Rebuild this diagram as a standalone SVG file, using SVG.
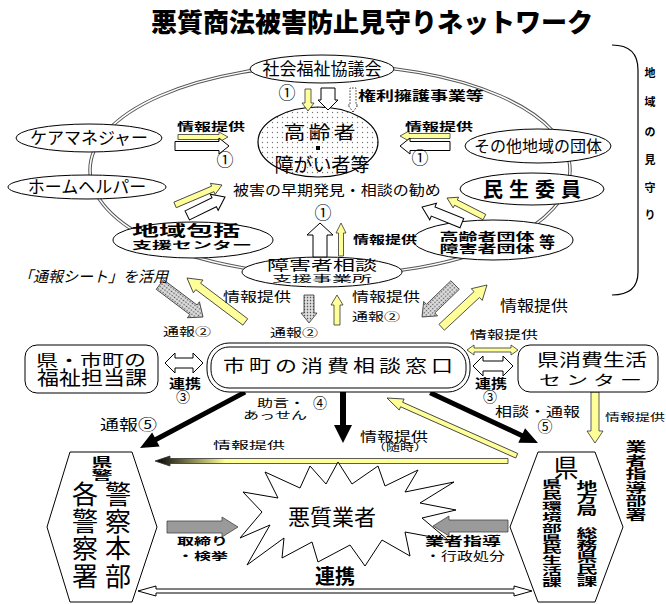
<svg xmlns="http://www.w3.org/2000/svg" width="666" height="604" viewBox="0 0 666 604">
<defs>
<pattern id="dots" width="5" height="5" patternUnits="userSpaceOnUse"><rect width="5" height="5" fill="#fff"/><circle cx="2.5" cy="2.5" r="0.7" fill="#777"/></pattern>
<pattern id="dots2" width="3" height="3" patternUnits="userSpaceOnUse"><rect width="3" height="3" fill="#ddd"/><circle cx="1.5" cy="1.5" r="0.8" fill="#555"/></pattern>
<linearGradient id="lg" x1="0" y1="0" x2="1" y2="0"><stop offset="0" stop-color="#000"/><stop offset="0.2" stop-color="#ffff99"/><stop offset="1" stop-color="#ffff99"/></linearGradient>
<style>
text{font-family:"Noto Sans CJK JP","Noto Sans CJK SC",sans-serif;fill:#000}
.b{font-weight:bold}
.h{font-weight:900}
.m{text-anchor:middle}
.node{fill:#fff;stroke:#000;stroke-width:1}
.ya{fill:#ffff99;stroke:#333;stroke-width:0.8}
.wa{fill:#fff;stroke:#000;stroke-width:1}
.ga{fill:url(#dots2);stroke:#333;stroke-width:0.8}
.gs{fill:#9a9a9a;stroke:#444;stroke-width:0.8}
.ba{fill:#000}
</style>
</defs>
<rect width="666" height="604" fill="#fff"/>

<text x="372" y="32" class="h m" font-size="26">悪質商法被害防止見守りネットワーク</text>

<g id="ring">
<ellipse cx="330" cy="170" rx="240" ry="105" fill="none" stroke="#555" stroke-width="3.5"/>
<ellipse cx="330" cy="170" rx="240" ry="105" fill="none" stroke="#fff" stroke-width="1.5"/>
</g>
<path id="bracket" d="M612,45 Q638,45 638,70 L638,272 Q638,295 612,295" fill="none" stroke="#000" stroke-width="1.2"/>
<text class="b m" font-size="11"><tspan x="650" y="77">地</tspan><tspan x="650" y="106">域</tspan><tspan x="650" y="136">の</tspan><tspan x="650" y="164">見</tspan><tspan x="650" y="192">守</tspan><tspan x="650" y="219">り</tspan></text>

<g id="n-shakyo"><ellipse class="node" cx="322" cy="69" rx="72" ry="14"/><text x="322" y="75" class="m" font-size="17">社会福祉協議会</text></g>
<g id="n-caremgr"><ellipse class="node" cx="89" cy="138" rx="73" ry="14"/><text x="89" y="144" class="m" font-size="17">ケアマネジャー</text></g>
<g id="n-helper"><ellipse class="node" cx="87" cy="187" rx="79" ry="12"/><text x="87" y="193" class="m" font-size="17">ホームヘルパー</text></g>
<g id="n-hokatsu"><ellipse class="node" cx="193" cy="240" rx="80" ry="18"/>
<text transform="translate(186,231) scale(1,0.55)" y="9" class="b m" font-size="27">地域包括</text>
<text transform="translate(192,245) scale(1,0.5)" y="7" class="b m" font-size="20">支援センター</text></g>
<g id="n-shogai"><ellipse class="node" cx="322" cy="272" rx="80" ry="15"/>
<text transform="translate(322,265) scale(1,0.62)" y="8" class="m" font-size="22">障害者相談</text>
<text transform="translate(322,278.5) scale(1,0.48)" y="7" class="m" font-size="20">支援事業所</text></g>
<g id="n-dantai"><ellipse class="node" cx="493" cy="240" rx="80" ry="20"/>
<text transform="translate(487,236.5) scale(1,0.6)" y="7" class="b m" font-size="19">高齢者団体</text>
<text transform="translate(487,249) scale(1,0.6)" y="7" class="b m" font-size="19">障害者団体</text>
<text x="547" y="248" class="b m" font-size="16">等</text></g>
<g id="n-minsei"><ellipse class="node" cx="532" cy="189" rx="72" ry="16"/><text x="535" y="197" class="b m" font-size="20" letter-spacing="6">民生委員</text></g>
<g id="n-sonota"><ellipse class="node" cx="538" cy="146" rx="73" ry="17"/><text x="538" y="152" class="m" font-size="16">その他地域の団体</text></g>
<g id="n-koreisha"><ellipse cx="318" cy="142" rx="60" ry="35" fill="url(#dots)" stroke="#000" stroke-width="1.2"/>
<text transform="translate(321,132) scale(1,0.85)" y="8" class="m" font-size="22" letter-spacing="3">高齢者</text>
<rect x="316" y="146" width="4" height="4" fill="#000"/>
<text x="322" y="172" class="m" font-size="19">障がい者等</text></g>

<g id="connectors">
<polygon class="ya" transform="translate(308,111) rotate(90)" points="0,0 -8,-6 -8,-3 -22,-3 -22,3 -8,3 -8,6"/>
<polygon class="wa" transform="translate(328,110) rotate(90)" points="0,0 -10,-10 -10,-7 -22,-7 -22,7 -10,7 -10,10"/>
<polygon fill="#fff" stroke="#000" stroke-width="0.8" stroke-dasharray="1.5 1.5" transform="translate(353,112) rotate(90)" points="0,0 -7,-5 -7,-3 -24,-3 -24,3 -7,3 -7,5"/>
<polygon class="ya" transform="translate(228,137)" points="0,0 -9,-5 -9,-2.5 -50,-2.5 -50,2.5 -9,2.5 -9,5"/>
<polygon class="wa" transform="translate(229,146)" points="0,0 -10,-8 -10,-4.5 -54,-4.5 -54,4.5 -10,4.5 -10,8"/>
<polygon class="ya" transform="translate(400,136) rotate(180)" points="0,0 -9,-5 -9,-2.5 -50,-2.5 -50,2.5 -9,2.5 -9,5"/>
<polygon class="wa" transform="translate(400,146) rotate(180)" points="0,0 -10,-8 -10,-4.5 -50,-4.5 -50,4.5 -10,4.5 -10,8"/>
<polygon class="ya" transform="translate(222,185) rotate(-23)" points="0,0 -10,-6 -10,-3 -51,-3 -51,3 -10,3 -10,6"/>
<polygon class="wa" transform="translate(225,197) rotate(-26)" points="0,0 -12,-9 -12,-5 -42,-5 -42,5 -12,5 -12,9"/>
<polygon class="ya" transform="translate(447,198) rotate(-153)" points="0,0 -10,-6 -10,-3 -42,-3 -42,3 -10,3 -10,6"/>
<polygon class="wa" transform="translate(422,207) rotate(-158)" points="0,0 -12,-9 -12,-5 -43,-5 -43,5 -12,5 -12,9"/>
<polygon class="wa" transform="translate(320,223) rotate(-90)" points="0,0 -12,-13 -12,-7 -34,-7 -34,7 -12,7 -12,13"/>
<polygon class="ya" transform="translate(341,223) rotate(-90)" points="0,0 -10,-5 -10,-2.5 -33,-2.5 -33,2.5 -10,2.5 -10,5"/>
<polygon class="ga" transform="translate(203,317) rotate(37)" points="0,0 -12,-10 -12,-6 -54,-6 -54,6 -12,6 -12,10"/>
<polygon class="ya" transform="translate(187,278) rotate(-143)" points="0,0 -14,-8 -14,-4 -73,-4 -73,4 -14,4 -14,8"/>
<polygon class="ga" transform="translate(309,323) rotate(90)" points="0,0 -10,-8 -10,-5 -28,-5 -28,5 -10,5 -10,8"/>
<polygon class="ya" transform="translate(337,295) rotate(-90)" points="0,0 -10,-6 -10,-3 -30,-3 -30,3 -10,3 -10,6"/>
<polygon class="ga" transform="translate(422,317) rotate(136)" points="0,0 -12,-10 -12,-6 -46,-6 -46,6 -12,6 -12,10"/>
<polygon class="ya" transform="translate(487,285) rotate(-43)" points="0,0 -14,-8 -14,-4 -62,-4 -62,4 -14,4 -14,8"/>
<polygon class="wa" points="165,363 175,353 175,358 193,358 193,353 203,363 193,373 193,368 175,368 175,373"/>
<polygon class="ya" points="467,350 474,345 474,348 511,348 511,345 518,350 511,355 511,352 474,352 474,355"/>
<polygon class="wa" points="473,366 483,356 483,361 503,361 503,356 513,366 503,376 503,371 483,371 483,376"/>
<polygon class="ba" transform="translate(140,448) rotate(152)" points="0,0 -18,-8 -18,-2.5 -119,-2.5 -119,2.5 -18,2.5 -18,8"/>
<polygon class="ba" transform="translate(538,443) rotate(25)" points="0,0 -18,-8 -18,-2.5 -119,-2.5 -119,2.5 -18,2.5 -18,8"/>
<polygon class="ba" transform="translate(343,443) rotate(90)" points="0,0 -18,-9 -18,-3 -51,-3 -51,3 -18,3 -18,9"/>
<polygon class="ya" transform="translate(595,443) rotate(90)" points="0,0 -12,-8 -12,-4 -51,-4 -51,4 -12,4 -12,8"/>
<polygon class="ya" transform="translate(387,398) rotate(-156)" points="0,0 -16,-6 -16,-2.5 -142,-2.5 -142,2.5 -16,2.5 -16,6"/>
<polygon fill="url(#lg)" stroke="#333" stroke-width="0.8" points="155,461 170,456 170,458.5 508,458.5 508,463.5 170,463.5 170,466"/>
<polygon class="gs" transform="translate(238,527)" points="0,0 -16,-10 -16,-6 -71,-6 -71,6 -16,6 -16,10"/>
<polygon class="gs" transform="translate(433,526) rotate(180)" points="0,0 -16,-10 -16,-6 -75,-6 -75,6 -16,6 -16,10"/>
<polygon class="wa" points="138,591 156,586 156,589 514,589 514,586 532,591 514,596 514,593 156,593 156,596"/>
</g>

<text transform="translate(358,96) scale(1,0.7)" y="6" class="b" font-size="18">権利擁護事業等</text>
<text transform="translate(177,127) scale(1,0.65)" y="6" class="b" font-size="17">情報提供</text>
<text transform="translate(405,127) scale(1,0.65)" y="6" class="b" font-size="17">情報提供</text>
<text class="m" font-size="17"><tspan x="287" y="99">①</tspan><tspan x="225" y="166">①</tspan><tspan x="420" y="164">①</tspan><tspan x="323" y="219">①</tspan></text>
<text transform="translate(233,190) scale(1,0.85)" y="6" font-size="16">被害の早期発見・相談の勧め</text>
<text transform="translate(353,240) scale(1,0.7)" y="6" class="b" font-size="16">情報提供</text>
<text x="18" y="282" font-size="15" font-style="italic">「通報シート」を活用</text>
<text transform="translate(223,296) scale(1,0.75)" y="6.5" font-size="17">情報提供</text>
<text transform="translate(352,296) scale(1,0.75)" y="6.5" font-size="17">情報提供</text>
<text transform="translate(500,305) scale(1,0.9)" y="6.5" font-size="17">情報提供</text>
<text transform="translate(163,332) scale(1,0.7)" y="6" font-size="16">通報②</text>
<text transform="translate(270,333) scale(1,0.7)" y="6" font-size="16">通報②</text>
<text transform="translate(352,317) scale(1,0.7)" y="6" font-size="16">通報②</text>
<text transform="translate(470,334) scale(1,0.7)" y="6.5" font-size="17">情報提供</text>

<g id="n-fukushi"><rect class="node" x="25" y="345" width="133" height="48" rx="12"/>
<text transform="translate(91,360) scale(1,0.7)" y="8" class="m" font-size="22">県・市町の</text>
<text transform="translate(92,378) scale(1,0.88)" y="8" class="m" font-size="22">福祉担当課</text></g>
<text transform="translate(185,383) scale(1,0.8)" y="6" class="b m" font-size="16">連携</text>
<text x="183" y="402" class="m" font-size="14">③</text>
<g id="n-madoguchi"><rect class="node" x="207" y="343" width="263" height="49" rx="22" stroke-width="2.2"/>
<rect x="211" y="347" width="255" height="41" rx="18" fill="none" stroke="#000" stroke-width="1"/>
<text transform="translate(340,366) scale(1,0.75)" y="8" class="m" font-size="22" letter-spacing="4">市町の消費相談窓口</text></g>
<text transform="translate(491,383) scale(1,0.8)" y="6" class="b m" font-size="16">連携</text>
<text x="490" y="402" class="m" font-size="14">③</text>
<g id="n-kensho"><rect class="node" x="518" y="345" width="140" height="47" rx="12"/>
<text transform="translate(592,360) scale(1,0.75)" y="8" class="m" font-size="22">県消費生活</text>
<text transform="translate(593,380) scale(1,0.6)" y="8" class="m" font-size="22" letter-spacing="5">センター</text></g>

<text transform="translate(100,425) scale(1,0.75)" y="7" font-size="19">通報⑤</text>
<text transform="translate(257,403) scale(1,0.65)" y="6" font-size="16">助言・</text>
<text x="320" y="408" class="m" font-size="14">④</text>
<text transform="translate(243,415) scale(1,0.65)" y="6" font-size="16">あっせん</text>
<text transform="translate(360,436) scale(1,0.75)" y="6" font-size="17">情報提供</text>
<text transform="translate(400,447) scale(1,0.7)" y="5" class="m" font-size="14">（随時）</text>
<text transform="translate(213,445) scale(1,0.6)" y="7" font-size="18">情報提供</text>
<text transform="translate(495,411) scale(1,0.75)" y="6.5" font-size="17">相談・通報</text>
<text x="545" y="432" class="m" font-size="15">⑤</text>
<text transform="translate(605,417) scale(1,0.7)" y="6" font-size="15">情報提供</text>
<text class="b m" font-size="20" transform="translate(636,0) scale(1.05,0.65)"><tspan x="0" y="693.8">業</tspan><tspan x="0" y="715.3">者</tspan><tspan x="0" y="735.3">指</tspan><tspan x="0" y="756.8">導</tspan><tspan x="0" y="776.9">部</tspan><tspan x="0" y="798.4">署</tspan></text>

<g id="n-police"><polygon class="node" points="70,452 132,452 157,527 132,602 70,602 47,527"/>
<text class="b m" font-size="20" transform="translate(102,0) scale(1.05,0.6)"><tspan x="0" y="777.6">県</tspan><tspan x="0" y="800.1">警</tspan></text>
<text class="m" font-size="26"><tspan x="118" y="504">警</tspan><tspan x="118" y="531">察</tspan><tspan x="118" y="558">本</tspan><tspan x="118" y="586">部</tspan></text>
<text class="m" font-size="26"><tspan x="85" y="504">各</tspan><tspan x="85" y="531">警</tspan><tspan x="85" y="558">察</tspan><tspan x="85" y="586">署</tspan></text></g>
<text transform="translate(177,541) scale(1,0.62)" y="6.5" class="b" font-size="17">取締り</text>
<text transform="translate(177,556) scale(1,0.6)" y="6.5" class="b" font-size="17">・検挙</text>

<g id="n-akushitsu"><polygon class="node" points="338,462 352,484 378,466 385,486 418,470 405,492 454,482 420,503 456,510 422,518 448,540 405,532 410,556 382,540 365,566 350,545 318,562 312,542 282,558 284,538 247,565 270,525 240,538 262,512 243,492 278,498 265,472 300,488 310,466 326,484"/>
<text x="332" y="525" class="m" font-size="22">悪質業者</text></g>
<text transform="translate(425,541) scale(1,0.65)" y="7" class="b" font-size="19">業者指導</text>
<text transform="translate(425,556) scale(1,0.75)" y="6" font-size="16">・行政処分</text>
<text x="335" y="584" class="b m" font-size="20">連携</text>

<g id="n-ken"><polygon class="node" points="538,452 595,452 623,527 595,602 538,602 510,527"/>
<text x="566" y="477" class="m" font-size="25">県</text>
<text class="b m" font-size="19" transform="translate(587,0) scale(1.1,0.63)"><tspan x="0" y="778.6">地</tspan><tspan x="0" y="797.7">方</tspan><tspan x="0" y="816.7">局</tspan><tspan x="0" y="853.2">総</tspan><tspan x="0" y="872.3">務</tspan><tspan x="0" y="891.3">県</tspan><tspan x="0" y="910.4">民</tspan><tspan x="0" y="929.4">課</tspan></text>
<text class="b m" font-size="18" transform="translate(552,0) scale(1.1,0.6)"><tspan x="0" y="813.5">県</tspan><tspan x="0" y="831.6">民</tspan><tspan x="0" y="849.8">環</tspan><tspan x="0" y="868">境</tspan><tspan x="0" y="886.1">部</tspan><tspan x="0" y="904.3">県</tspan><tspan x="0" y="922.5">民</tspan><tspan x="0" y="940.6">生</tspan><tspan x="0" y="958.8">活</tspan><tspan x="0" y="977">課</tspan></text></g>
</svg>
